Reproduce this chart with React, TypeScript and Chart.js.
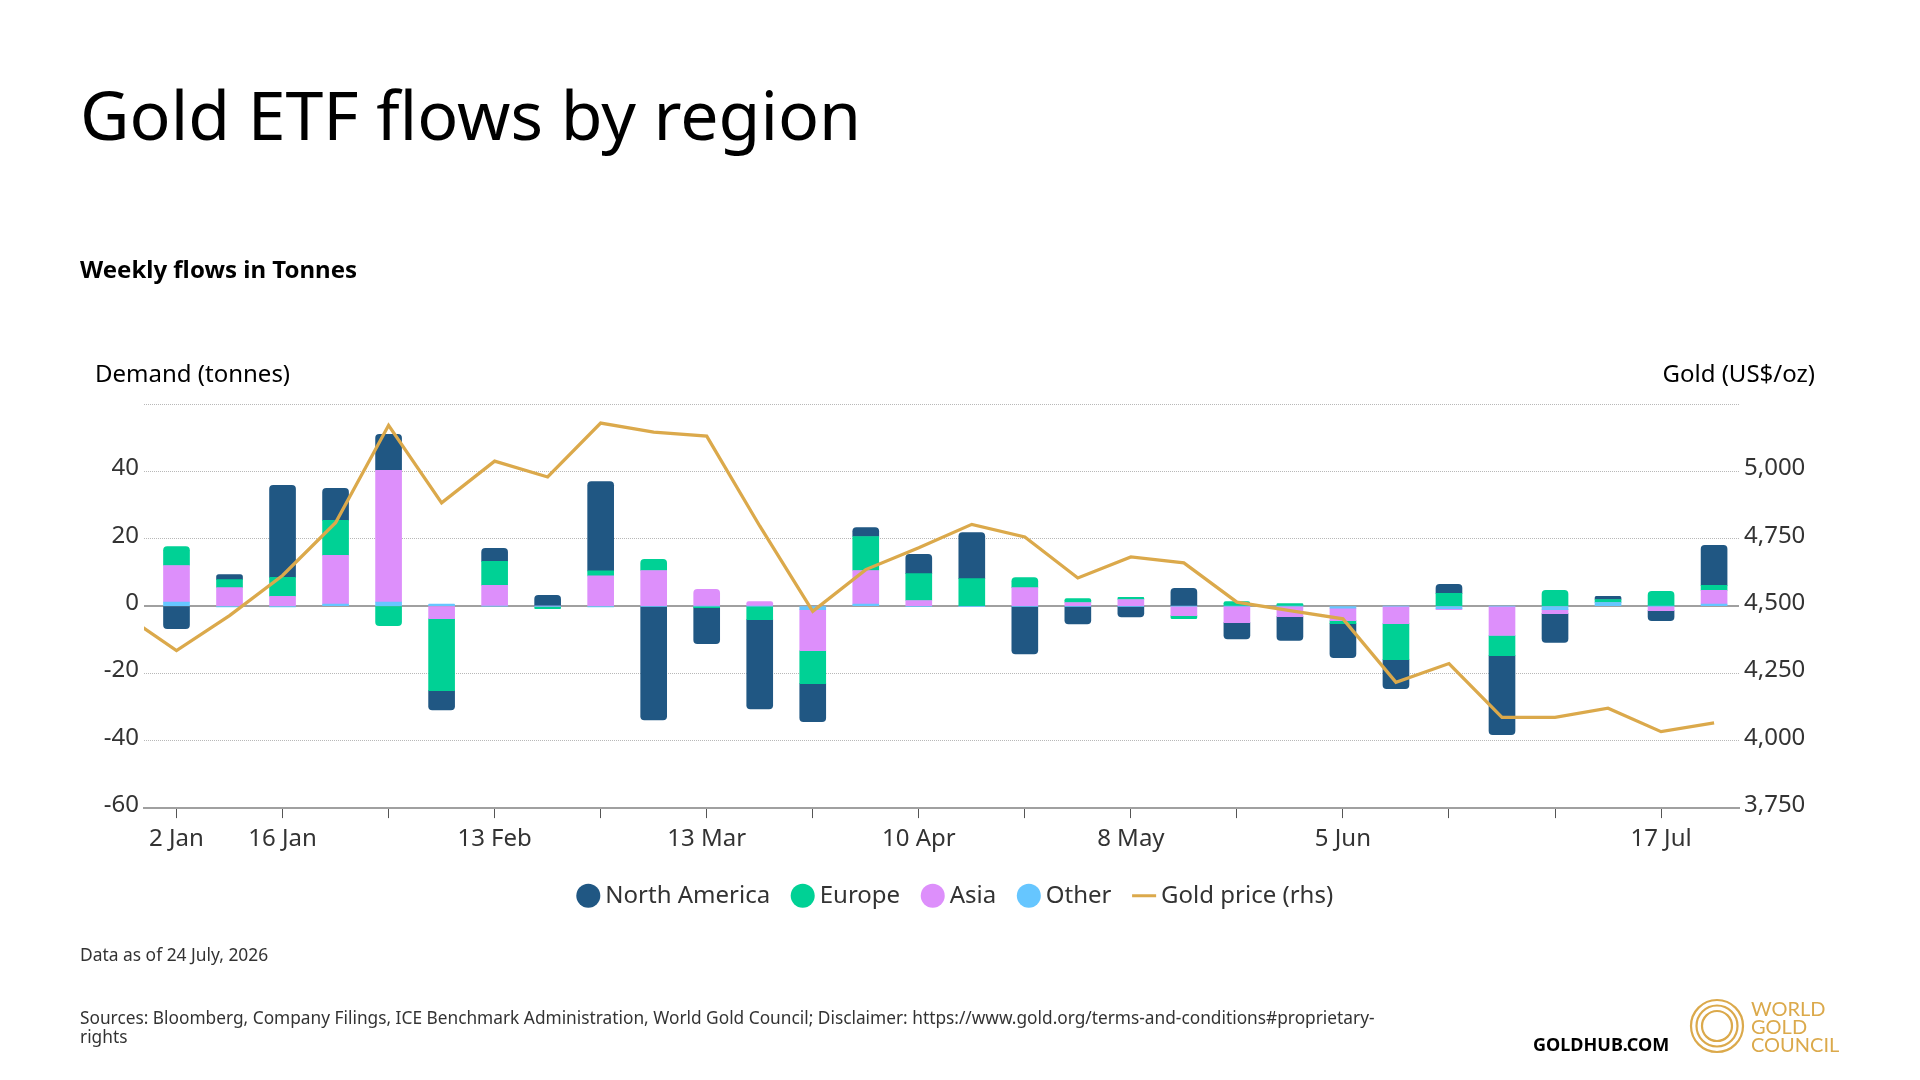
import React, { useEffect, useRef } from "react";
import { Chart, registerables } from "chart.js";

Chart.register(...registerables);

// Week index 0 = 2 Jan; index -1 is the clipped point before the axis starts.
const weeks = [-1, 0, 1, 2, 3, 4, 5, 6, 7, 8, 9, 10, 11, 12, 13, 14, 15, 16, 17, 18, 19, 20, 21, 22, 23, 24, 25, 26, 27, 28, 29];
const barWeeks = weeks.slice(1);
const tickWeeks = [0, 2, 4, 6, 8, 10, 12, 14, 16, 18, 20, 22, 24, 26, 28];
const tickLabels = ["2 Jan", "16 Jan", "", "13 Feb", "", "13 Mar", "", "10 Apr", "", "8 May", "", "5 Jun", "", "", "17 Jul"];

const other = [1.2, -0.2, -0.2, 0.6, 1.2, 0.6, 0, 0, -0.2, -0.1, 0, 0, -1, 0.6, -0.1, -0.1, -0.1, -0.1, -0.1, 0, 0, 0, -0.6, 0, -0.7, 0, -1, 1.1, 0, 0.6];
const asia = [10.9, 5.5, 2.9, 14.5, 39.2, -3.7, 6.2, 0, 9, 10.6, 5, 1.4, -12.2, 10, 1.7, 0, 5.5, 1.1, 2, -2.8, -4.9, -3.1, -3.7, -5.2, -0.3, -8.7, -1.2, 0, -1.3, 4.1];
const europe = [5.65, 2.4, 5.65, 10.4, -5.8, -21.4, 7.1, -0.7, 1.5, 3.3, -0.4, -4, -9.8, 10.1, 8, 8.2, 3, 1.2, 0.6, -0.9, 1.4, 0.8, -0.9, -10.7, 3.8, -6, 4.7, 0.9, 4.4, 1.5];
const northAmerica = [-6.7, 1.5, 27.4, 9.5, 10.7, -5.7, 3.9, 3.2, 26.5, -33.7, -10.7, -26.5, -11.3, 2.7, 5.7, 13.7, -14.1, -5.2, -3.1, 5.3, -4.8, -7.1, -10.1, -8.6, 2.7, -23.5, -8.6, 0.9, -3, 11.9];
const goldPrice = [4470, 4335, 4465, 4614, 4810, 5172, 4884, 5039, 4980, 5180, 5147, 5132, 4798, 4481, 4636, 4717, 4804, 4757, 4605, 4683, 4661, 4515, 4484, 4453, 4217, 4287, 4087, 4087, 4121, 4034, 4067];

const stackOrder = [other, asia, europe, northAmerica];
const legendOrder = ["North America", "Europe", "Asia", "Other", "Gold price (rhs)"];
const FONT = "'Noto Sans', sans-serif";
const RADIUS = 4;

function corners(series: number[], index: number) {
  const v = series[index];
  const none = { topLeft: 0, topRight: 0, bottomLeft: 0, bottomRight: 0 };
  if (!v) return none;
  const own = stackOrder.indexOf(series);
  const outer = !stackOrder.slice(own + 1).some((s) => (v > 0 ? s[index] > 0 : s[index] < 0));
  if (!outer) return none;
  return v > 0
    ? { topLeft: RADIUS, topRight: RADIUS, bottomLeft: 0, bottomRight: 0 }
    : { topLeft: 0, topRight: 0, bottomLeft: RADIUS, bottomRight: RADIUS };
}

function barSet(label: string, series: number[], color: string) {
  return {
    type: "bar" as const,
    label,
    data: barWeeks.map((w, i) => ({ x: w, y: series[i] })),
    backgroundColor: color,
    barThickness: 26,
    yAxisID: "y",
    order: 2,
    borderRadius: (ctx: any) => corners(series, ctx.dataIndex),
  };
}

export default function App() {
  const ref = useRef<HTMLCanvasElement>(null);
  useEffect(() => {
    const chart = new Chart(ref.current!, {
      type: "bar",
      data: {
        datasets: [
          barSet("Other", other, "#66C6FF"),
          barSet("Asia", asia, "#DD8FFB"),
          barSet("Europe", europe, "#00D195"),
          barSet("North America", northAmerica, "#205783"),
          {
            type: "line",
            label: "Gold price (rhs)",
            data: weeks.map((w, i) => ({ x: w, y: goldPrice[i] })),
            borderColor: "#DBA94B",
            backgroundColor: "#DBA94B",
            borderWidth: 3.3,
            pointRadius: 0,
            tension: 0,
            yAxisID: "yGold",
            order: 1,
          } as any,
        ],
      },
      options: {
        responsive: false,
        animation: false,
        devicePixelRatio: 1,
        layout: { padding: { top: 404.3, left: 0, right: 3.6, bottom: 162.3 } },
        plugins: {
          title: { display: false },
          tooltip: { enabled: false },
          legend: {
            position: "bottom",
            labels: {
              usePointStyle: true,
              boxHeight: 17,
              boxWidth: 10,
              padding: 27.6,
              color: "#333333",
              font: { family: FONT, size: 24 },
              sort: (a: any, b: any) => legendOrder.indexOf(a.text) - legendOrder.indexOf(b.text),
              generateLabels: (c: any) =>
                c.data.datasets.map((d: any, i: number) => ({
                  text: d.label,
                  datasetIndex: i,
                  fillStyle: d.type === "line" ? d.borderColor : d.backgroundColor,
                  strokeStyle: d.type === "line" ? d.borderColor : d.backgroundColor,
                  lineWidth: d.type === "line" ? 3 : 0,
                  pointStyle: d.type === "line" ? "line" : "circle",
                  fontColor: "#333333",
                })),
            },
          },
        },
        scales: {
          x: {
            type: "linear",
            stacked: true,
            bounds: "data",
            offset: false,
            min: -0.613,
            max: 29.47,
            afterBuildTicks: (s: any) => {
              s.ticks = tickWeeks.map((value) => ({ value }));
            },
            afterFit: (s: any) => {
              s.height = 48;
            },
            ticks: {
              autoSkip: false,
              maxRotation: 0,
              padding: 7,
              color: "#333333",
              font: { family: FONT, size: 24 },
              callback: (_v: any, i: number) => tickLabels[i],
            },
            grid: { offset: false, drawOnChartArea: false, drawTicks: true, tickLength: 10, tickColor: "#555555", tickWidth: 1 },
            border: { color: "#A0A0A0", width: 2 },
          },
          y: {
            type: "linear",
            position: "left",
            stacked: true,
            min: -60,
            max: 60,
            afterFit: (s: any) => {
              s.width = 144;
            },
            ticks: {
              stepSize: 20,
              padding: 5,
              color: "#333333",
              font: { family: FONT, size: 24, lineHeight: 0.25 },
              callback: (v: any) => (v === 60 ? "" : [String(v), ""]),
            },
            grid: { color: "#B8B8B8", lineWidth: 1, drawTicks: false },
            border: { display: false, dash: [1, 1] },
          },
          yGold: {
            type: "linear",
            position: "right",
            min: 3750,
            max: 5250,
            afterFit: (s: any) => {
              s.width = 177.4;
            },
            ticks: {
              stepSize: 250,
              padding: 5,
              color: "#333333",
              font: { family: FONT, size: 24, lineHeight: 0.25 },
              callback: (v: any) => (v === 5250 ? "" : [Number(v).toLocaleString("en-US"), ""]),
            },
            grid: {
              drawTicks: false,
              lineWidth: 2,
              color: (c: any) => (c.tick && c.tick.value === 4500 ? "#A0A0A0" : "rgba(0,0,0,0)"),
            },
            border: { display: false },
          },
        },
      } as any,
    });
    return () => chart.destroy();
  }, []);

  const t = (x: number, y: number, size: number, extra: any = {}) => ({
    position: "absolute" as const,
    left: x,
    top: y,
    fontFamily: FONT,
    fontSize: size,
    whiteSpace: "nowrap" as const,
    color: "#000",
    ...extra,
  });

  return (
    <div style={{ position: "absolute", left: 0, top: 0, width: 1920, height: 1080, background: "#fff", overflow: "hidden" }}>
      <canvas ref={ref} width={1920} height={1080} style={{ position: "absolute", left: 0, top: 0, width: 1920, height: 1080 }} />
      <div style={t(80, 69, 68, { lineHeight: "90px" })}>Gold ETF flows by region</div>
      <div style={t(80, 253.5, 24, { fontWeight: 700, lineHeight: "30px" })}>Weekly flows in Tonnes</div>
      <div style={t(95, 357.5, 24, { lineHeight: "30px" })}>Demand (tonnes)</div>
      <div style={t(0, 357.5, 24, { lineHeight: "30px", left: "auto", right: 105 })}>Gold (US$/oz)</div>
      <div style={t(80, 942, 17.4, { lineHeight: "24px", color: "#333" })}>Data as of 24 July, 2026</div>
      <div style={t(80, 1008, 17.3, { lineHeight: "19px", color: "#333" })}>
        Sources: Bloomberg, Company Filings, ICE Benchmark Administration, World Gold Council; Disclaimer: https://www.gold.org/terms-and-conditions#proprietary-
        <br />
        rights
      </div>
      <div style={t(1533, 1032, 18, { fontWeight: 700, lineHeight: "24px" })}>GOLDHUB.COM</div>
      <svg width={64} height={64} viewBox="0 0 64 64" style={{ position: "absolute", left: 1685, top: 994 }}>
        <circle cx={32} cy={32} r={26} fill="none" stroke="#DBA94B" strokeWidth={2.2} />
        <circle cx={32} cy={32} r={20.5} fill="none" stroke="#DBA94B" strokeWidth={2.2} />
        <circle cx={32} cy={32} r={15} fill="none" stroke="#DBA94B" strokeWidth={2.2} />
      </svg>
      <div style={t(1751, 999, 20, { fontFamily: "Lato, sans-serif", lineHeight: "18px", color: "#DBA94B" })}>
        WORLD
        <br />
        GOLD
        <br />
        COUNCIL
      </div>
    </div>
  );
}
